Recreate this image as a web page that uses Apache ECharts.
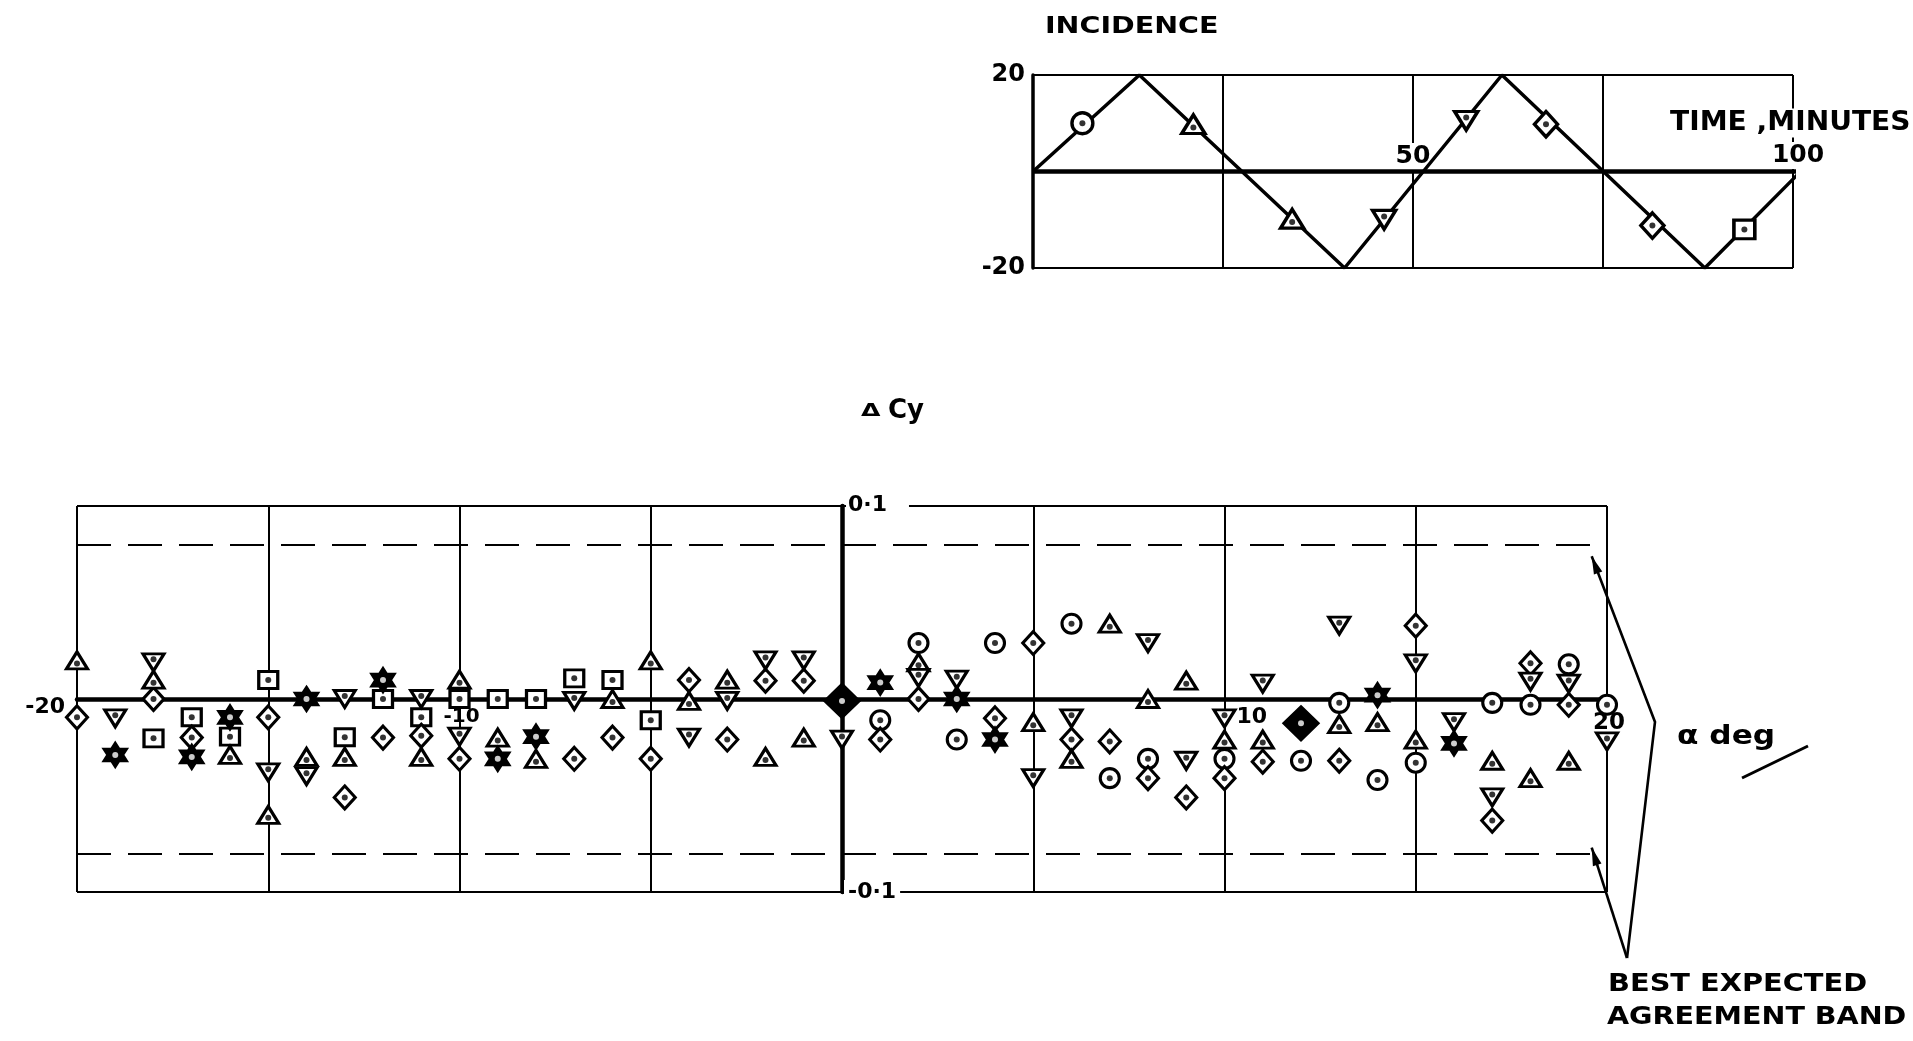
<!DOCTYPE html>
<html>
<head>
<meta charset="utf-8">
<script src="https://cdn.jsdelivr.net/npm/echarts/dist/echarts.min.js"></script>
<style>
  html, body { margin: 0; padding: 0; background: #fff; }
  #c { width: 1913px; height: 1041px; }
</style>
</head>
<body>
<div id="c"></div>
<script>
// ---- incidence history (top plot) ----
var incTime = [0, 14, 41, 61.7, 88.4, 101];
var incDeg = [0, 20, -20, 20, -20, 0];
var timeAxisEnd = 106; // the heavy zero line runs a bit past 100 min
var runTime = [6.5, 21.1, 34.1, 46.2, 57, 67.5, 81.5, 93.6];
var runInc = [10, 9.8, -9.8, -10, 10.5, 9.8, -11.2, -12];
var runSym = ['circle', 'triUp', 'triUp', 'triDown', 'triDown', 'diamond', 'diamond', 'square'];

// ---- delta Cy against alpha (bottom plot), one list per symbol ----
var circlePts = [[1, -0.011], [2, 0.029], [3, -0.021], [4, 0.029], [6, 0.039], [7, -0.041], [8, -0.031],
  [10, -0.031], [12, -0.032], [13, -0.002], [14, -0.042], [15, -0.033], [17, -0.002], [18, -0.003],
  [19, 0.018], [20, -0.003]];
var triUpPts = [[-20, 0.020], [-18, 0.010], [-16, -0.029], [-15, -0.060], [-14, -0.030], [-13, -0.030],
  [-11, -0.030], [-10, 0.010], [-9, -0.020], [-8, -0.031], [-6, 0.0], [-5, 0.020], [-4, -0.001],
  [-3, 0.010], [-2, -0.030], [-1, -0.020], [2, 0.019], [5, -0.012], [6, -0.031], [7, 0.039], [8, 0.0],
  [9, 0.0095], [10, -0.021], [11, -0.021], [13, -0.013], [14, -0.012], [15, -0.021], [17, -0.032],
  [18, -0.041], [19, -0.032]];
var triDownPts = [[-18, 0.019], [-19, -0.010], [-15, -0.038], [-14, -0.040], [-13, 0.0], [-11, 0.0],
  [-10, -0.0195], [-7, -0.001], [-4, -0.020], [-3, -0.001], [-2, 0.020], [-1, 0.020], [0, -0.021],
  [2, 0.011], [3, 0.010], [5, -0.041], [6, -0.010], [8, 0.029], [9, -0.032], [10, -0.010], [11, 0.008],
  [13, 0.038], [15, 0.0185], [16, -0.012], [17, -0.051], [18, 0.009], [19, 0.008], [20, -0.022]];
var diamondPts = [[-20, -0.0095], [-18, 0.0], [-17, -0.020], [-15, -0.0095], [-13, -0.051], [-12, -0.020],
  [-11, -0.019], [-10, -0.031], [-7, -0.031], [-6, -0.020], [-5, -0.031], [-4, 0.0098], [-3, -0.021],
  [-2, 0.0095], [-1, 0.0095], [1, -0.021], [2, 0.0], [4, -0.010], [5, 0.029], [6, -0.021], [7, -0.022],
  [8, -0.041], [9, -0.051], [10, -0.041], [11, -0.0325], [13, -0.032], [15, 0.038], [17, -0.063],
  [18, 0.0185], [19, -0.003]];
var bigDiamondPts = [[0, -0.001], [12, -0.0126]];
var squarePts = [[-18, -0.0204], [-17, -0.0095], [-16, -0.0195], [-15, 0.0098], [-13, -0.0198], [-12, 0.0],
  [-11, -0.0095], [-10, 0.0], [-9, 0.0], [-8, 0.0], [-7, 0.0107], [-6, 0.0098], [-5, -0.011]];
var starPts = [[-19, -0.029], [-17, -0.030], [-16, -0.0095], [-14, 0.0], [-12, 0.0098], [-9, -0.031],
  [-8, -0.0195], [1, 0.0085], [3, 0.0], [4, -0.021], [14, 0.002], [16, -0.023]];
var bandHalf = 0.077; // best expected agreement band

var FONT = '"DejaVu Sans", sans-serif';
var chart = echarts.init(document.getElementById('c'));

var hexagram = 'path://M0,-10L2.89,-5L8.66,-5L5.77,0L8.66,5L2.89,5L0,10L-2.89,5L-8.66,5L-5.77,0L-8.66,-5L-2.89,-5Z';
var SYM = {
  circle: { symbol: 'circle', size: [19, 19], dy: 0 },
  triUp: { symbol: 'triangle', size: [21, 17], dy: 3 },
  triDown: { symbol: 'triangle', size: [21, 17], rotate: 180, dy: -3 },
  diamond: { symbol: 'diamond', size: [21, 23], dy: 0 },
  square: { symbol: 'rect', size: [19, 17], dy: 0 },
  star: { symbol: hexagram, size: [22, 23], fill: '#000', dy: 0 },
  bigDiamond: { symbol: 'diamond', size: [34, 33], fill: '#000', dy: 0 },
};

// hollow marker + its centre dot, both from the same points
function markerSeries(pts, key, gi, k) {
  var s = SYM[key];
  k = k || 1;
  return [{
    type: 'scatter', xAxisIndex: gi, yAxisIndex: gi, data: pts, clip: false, silent: true,
    symbol: s.symbol, symbolSize: [s.size[0] * k, s.size[1] * k], symbolRotate: s.rotate || 0, z: 5,
    itemStyle: { color: s.fill || '#fff', borderColor: '#000', borderWidth: 3.1 * k, opacity: 1 },
  }, {
    type: 'scatter', xAxisIndex: gi, yAxisIndex: gi, data: pts, clip: false, silent: true,
    symbol: 'circle', symbolSize: 6, symbolOffset: [0, s.dy * k], z: 6,
    itemStyle: { color: s.fill ? '#fff' : '#000' },
  }];
}

var series = [];
series.push({
  type: 'line', xAxisIndex: 0, yAxisIndex: 0, data: [[0, 0], [timeAxisEnd, 0]], clip: false,
  symbol: 'none', silent: true, z: 4, lineStyle: { color: '#000', width: 4.5 },
});
series.push({
  type: 'line', xAxisIndex: 0, yAxisIndex: 0, symbol: 'none', silent: true, z: 4,
  data: incTime.map(function (t, i) { return [t, incDeg[i]]; }),
  lineStyle: { color: '#000', width: 3.5 },
});
['circle', 'triUp', 'triDown', 'diamond', 'square'].forEach(function (k) {
  var pts = [];
  runSym.forEach(function (s, i) { if (s === k) pts.push([runTime[i], runInc[i]]); });
  series = series.concat(markerSeries(pts, k, 0, 1.1));
});

var bottom = markerSeries(circlePts, 'circle', 1);
bottom[0].markLine = {
  silent: true, symbol: 'none', label: { show: false },
  lineStyle: { color: '#000', width: 2.2, type: [34, 17] },
  data: [{ yAxis: bandHalf }, { yAxis: -bandHalf }],
};
series = series.concat(bottom,
  markerSeries(squarePts, 'square', 1),
  markerSeries(diamondPts, 'diamond', 1),
  markerSeries(triUpPts, 'triUp', 1),
  markerSeries(triDownPts, 'triDown', 1),
  markerSeries(starPts, 'star', 1),
  markerSeries(bigDiamondPts, 'bigDiamond', 1));

var thin = { show: true, lineStyle: { color: '#000', width: 2 } };

chart.setOption({
  backgroundColor: '#fff',
  animation: false,
  grid: [
    { left: 1033, top: 75, width: 760, height: 193, outerBoundsMode: 'none' },
    { left: 77, top: 506, width: 1530, height: 386, outerBoundsMode: 'none' },
  ],
  xAxis: [
    { type: 'value', gridIndex: 0, min: 0, max: 100, interval: 25,
      axisLine: { show: false }, axisTick: { show: false }, axisLabel: { show: false }, splitLine: thin },
    { type: 'value', gridIndex: 1, min: -20, max: 20, interval: 5,
      axisLine: { show: true, onZero: true, lineStyle: { color: '#000', width: 4.5 } },
      axisTick: { show: false }, axisLabel: { show: false }, splitLine: thin },
  ],
  yAxis: [
    { type: 'value', gridIndex: 0, min: -20, max: 20, interval: 20,
      axisLine: { show: true, lineStyle: { color: '#000', width: 3.5 } }, axisTick: { show: false },
      axisLabel: { color: '#000', fontSize: 24, fontWeight: 'bold', fontFamily: FONT, margin: 8,
        formatter: function (v) { return v === 0 ? '' : String(v); } },
      splitLine: thin },
    { type: 'value', gridIndex: 1, min: -0.1, max: 0.1, interval: 0.1,
      axisLine: { show: true, onZero: true, lineStyle: { color: '#000', width: 4.5 } },
      axisTick: { show: false }, axisLabel: { show: false }, splitLine: thin },
  ],
  series: series,
});

function px(gi, x, y) { return chart.convertToPixel({ gridIndex: gi }, [x, y]); }

function txt(x, y, s, size, align, extra) {
  var el = {
    type: 'text', x: x, y: y, z: 3,
    style: { text: s, fill: '#000', font: 'bold ' + size + 'px ' + FONT,
      textAlign: align || 'left', textVerticalAlign: 'middle' },
  };
  if (extra) {
    if (extra.mask) { el.style.backgroundColor = '#fff'; el.style.padding = extra.mask; }
    if (extra.scaleX) el.scaleX = extra.scaleX;
  }
  return el;
}

function arrow(pts) {
  var a = pts[pts.length - 2], b = pts[pts.length - 1];
  var dx = b[0] - a[0], dy = b[1] - a[1], L = Math.sqrt(dx * dx + dy * dy);
  var ux = dx / L, uy = dy / L, hl = 18, hw = 4.5;
  var bx = b[0] - ux * hl, by = b[1] - uy * hl;
  return [
    { type: 'polyline', z: 6, shape: { points: pts }, style: { stroke: '#000', lineWidth: 2.6, fill: 'none' } },
    { type: 'polygon', z: 6, shape: { points: [b, [bx - uy * hw, by + ux * hw], [bx + uy * hw, by - ux * hw]] },
      style: { fill: '#000' } },
  ];
}

var g = [];
// top plot annotations
g.push(txt(1045, 27, 'INCIDENCE', 23, 'left', { scaleX: 1.24 }));
g.push(txt(1668, 123, 'TIME ,MINUTES', 27, 'left', { scaleX: 1.04, mask: [1, 2] }));
var p50 = px(0, 50, 0), p100 = px(0, 100, 0);
g.push(txt(p50[0], p50[1] - 15, '50', 25, 'center', { mask: [1, 2] }));
g.push(txt(p100[0] + 5, p100[1] - 16, '100', 25, 'center', { mask: [1, 2] }));

// bottom plot annotations
g.push(txt(861, 411, '\u0394', 18, 'left', { scaleX: 1.4 }));
g.push(txt(888, 411, 'Cy', 26, 'left'));
var pTop = px(1, 0, 0.1), pBot = px(1, 0, -0.1);
g.push(txt(pTop[0] + 4, pTop[1] - 1, '0\u00B71', 22, 'left', { mask: [1, 22, 1, 2] }));
g.push(txt(pBot[0] + 2, pBot[1], '-0\u00B71', 22, 'left', { mask: [1, 4] }));
var pm20 = px(1, -20, 0), pm10 = px(1, -10, 0), p10 = px(1, 10, 0), p20 = px(1, 20, 0);
g.push(txt(pm20[0] - 12, pm20[1] + 8, '-20', 22, 'right'));
g.push(txt(pm10[0] + 2, pm10[1] + 18, '-10', 20, 'center'));
g.push(txt(p10[0] + 12, p10[1] + 18, '10', 22, 'left'));
g.push(txt(p20[0] + 2, p20[1] + 24, '20', 23, 'center', { mask: [0, 1] }));
g.push(txt(1677, 737, '\u03B1 deg', 26, 'left', { scaleX: 1.2 }));
g.push({ type: 'line', z: 6, shape: { x1: 1742, y1: 778, x2: 1808, y2: 746 }, style: { stroke: '#000', lineWidth: 3 } });
var tipUp = px(1, 19.6, bandHalf - 0.003), tipLo = px(1, 19.6, -bandHalf);
g = g.concat(arrow([[1627, 958], [1655, 722], tipUp]));
g = g.concat(arrow([[1627, 958], tipLo]));
g.push(txt(1608, 985, 'BEST EXPECTED', 24, 'left', { scaleX: 1.2 }));
g.push(txt(1607, 1018, 'AGREEMENT BAND', 24, 'left', { scaleX: 1.19 }));

chart.setOption({ graphic: g });
</script>
</body>
</html>
